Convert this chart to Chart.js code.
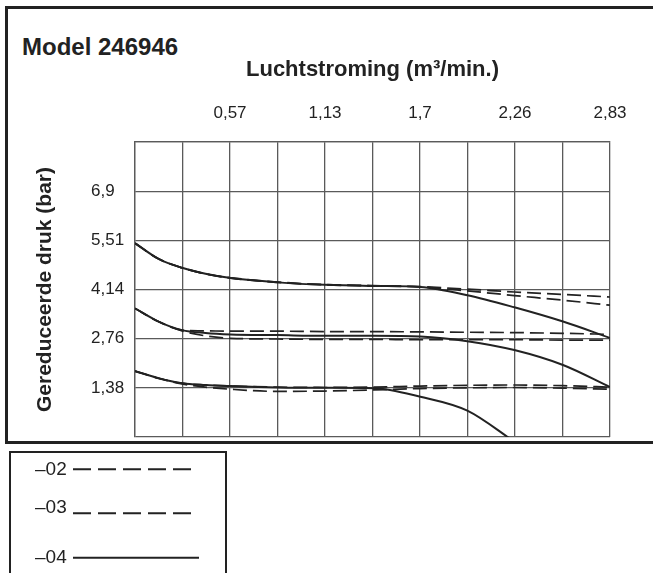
<!DOCTYPE html>
<html>
<head>
<meta charset="utf-8">
<script src="https://cdn.jsdelivr.net/npm/chart.js@4.4.1/dist/chart.umd.min.js"></script>
<style>
  html, body { margin: 0; padding: 0; background: #fff; }
  body { width: 653px; height: 573px; position: relative; overflow: hidden;
         font-family: "Liberation Sans", Arial, sans-serif; color: #222; }
  #frame { position: absolute; left: 5px; top: 6px; width: 700px; height: 438px;
           box-sizing: border-box; border: 3px solid #222; }
  #title { position: absolute; left: 22px; top: 35px; font-size: 24px; font-weight: bold;
           line-height: 24px; white-space: nowrap; }
  #legend { position: absolute; left: 9px; top: 451px; width: 218px; height: 200px;
            box-sizing: border-box; border: 2.5px solid #222; }
  .item { position: absolute; left: 24px; font-size: 19px; line-height: 19px; white-space: nowrap; }
  .item svg { position: absolute; left: 38px; top: 0; overflow: visible; }
  #chart { position: absolute; left: 0; top: 0; }
</style>
</head>
<body>
<div id="frame"></div>
<div id="title">Model 246946</div>
<canvas id="chart" width="653" height="573"></canvas>
<div id="legend"></div>
<script>
  // --- Data ---
  const flow = [0, 0.14, 0.28, 0.42, 0.57, 0.85, 1.13, 1.42, 1.7, 1.98, 2.26, 2.55, 2.83];
  const xTickLabels = ["0,57", "1,13", "1,7", "2,26", "2,83"];
  const yTickLabels = ["1,38", "2,76", "4,14", "5,51", "6,9"];
  const xStep = 0.283;
  const yStep = 1.38;

  // upper curves
  const high02 = [5.44, 5.00, 4.75, 4.58, 4.47, 4.35, 4.28, 4.25, 4.22, 4.15, 4.07, 4.00, 3.93];
  const high03 = [5.44, 5.00, 4.75, 4.58, 4.46, 4.34, 4.27, 4.24, 4.21, 4.10, 3.97, 3.84, 3.70];
  const high04 = [5.44, 5.00, 4.75, 4.58, 4.46, 4.34, 4.27, 4.24, 4.21, 3.98, 3.64, 3.24, 2.78];
  // middle curves
  const mid02 = [3.61, 3.24, 3.00, 2.98, 2.97, 2.97, 2.96, 2.96, 2.95, 2.94, 2.93, 2.91, 2.88];
  const mid03 = [3.61, 3.24, 2.98, 2.84, 2.77, 2.75, 2.74, 2.74, 2.73, 2.73, 2.73, 2.72, 2.72];
  const mid04 = [3.61, 3.24, 3.00, 2.92, 2.88, 2.86, 2.84, 2.84, 2.82, 2.69, 2.44, 2.02, 1.40];
  // lower curves
  const low02 = [1.85, 1.65, 1.51, 1.46, 1.43, 1.40, 1.39, 1.40, 1.43, 1.45, 1.46, 1.44, 1.40];
  const low03 = [1.85, 1.65, 1.49, 1.40, 1.34, 1.28, 1.29, 1.32, 1.36, 1.38, 1.39, 1.37, 1.34];
  const low04 = [1.85, 1.65, 1.51, 1.46, 1.43, 1.39, 1.38, 1.37, 1.13, 0.74, -0.13, null, null];

  const ink = "#222";
  const gridColor = "#5a5a5a";
  const dash = [14, 6];

  function pts(arr) {
    return arr.map((v, i) => ({ x: flow[i], y: v }));
  }
  function series(label, arr, isDashed) {
    return {
      label: label,
      data: pts(arr),
      borderColor: ink,
      borderWidth: isDashed ? 1.7 : 2,
      borderDash: isDashed ? dash : [],
      pointRadius: 0,
      fill: false,
      cubicInterpolationMode: "monotone",
      spanGaps: false,
    };
  }

  const datasets = [
    series("–02", high02, true), series("–03", high03, true), series("–04", high04, false),
    series("–02", mid02, true), series("–03", mid03, true), series("–04", mid04, false),
    series("–02", low02, true), series("–03", low03, true), series("–04", low04, false),
  ];

  new Chart(document.getElementById("chart"), {
    type: "line",
    data: { datasets: datasets },
    options: {
      responsive: false,
      animation: false,
      devicePixelRatio: 1,
      layout: { padding: { left: 91, top: 0, right: 43, bottom: 136 } },
      plugins: { legend: { display: false }, tooltip: { enabled: false } },
      scales: {
        x: {
          type: "linear",
          position: "top",
          min: 0,
          max: 2.83,
          afterBuildTicks: (s) => {
            s.ticks = [];
            for (let i = 0; i <= 10; i++) s.ticks.push({ value: +(i * xStep).toFixed(3) });
          },
          afterFit: (s) => { s.height = 142; },
          ticks: {
            color: ink,
            padding: 18,
            maxRotation: 0,
            autoSkip: false,
            font: { family: "Liberation Sans", size: 17 },
            callback: (v, i) => (i % 2 === 0 && i > 0 ? xTickLabels[i / 2 - 1] : ""),
          },
          grid: { color: gridColor, lineWidth: 1.3, drawTicks: false },
          border: { color: gridColor, width: 1.3 },
          title: {
            display: true,
            text: "Luchtstroming (m³/min.)",
            color: ink,
            font: { family: "Liberation Sans", size: 22, weight: "bold" },
            padding: { top: 57, bottom: 0 },
          },
        },
        y: {
          type: "linear",
          min: 0,
          max: 8.28,
          afterBuildTicks: (s) => {
            s.ticks = [];
            for (let i = 0; i <= 6; i++) s.ticks.push({ value: +(i * yStep).toFixed(2) });
          },
          afterFit: (s) => { s.width = 44; },
          ticks: {
            color: ink,
            padding: 8,
            crossAlign: "far",
            autoSkip: false,
            font: { family: "Liberation Sans", size: 17 },
            callback: (v, i) => (i >= 1 && i <= 5 ? yTickLabels[i - 1] : ""),
          },
          grid: { color: gridColor, lineWidth: 1.3, drawTicks: false },
          border: { color: gridColor, width: 1.3 },
          title: {
            display: true,
            text: "Gereduceerde druk (bar)",
            color: ink,
            font: { family: "Liberation Sans", size: 21, weight: "bold" },
            padding: { top: -58, bottom: 0 },
          },
        },
      },
    },
  });

  // --- Legend (box under the chart) ---
  const legendItems = [
    { label: "–02", top: 8, lineY: 10.3, len: 122, dash: "18 7" },
    { label: "–03", top: 46, lineY: 16.3, len: 122, dash: "18 7" },
    { label: "–04", top: 96, lineY: 10.7, len: 126, dash: "" },
  ];
  const legend = document.getElementById("legend");
  legendItems.forEach((it) => {
    const d = document.createElement("div");
    d.className = "item";
    d.style.top = it.top - 2.5 + "px";
    d.innerHTML =
      it.label +
      '<svg width="130" height="20"><line x1="0" x2="' + it.len +
      '" y1="' + it.lineY + '" y2="' + it.lineY + '" stroke="#222" stroke-width="2"' +
      (it.dash ? ' stroke-dasharray="' + it.dash + '"' : "") + "/></svg>";
    legend.appendChild(d);
  });
</script>
</body>
</html>
